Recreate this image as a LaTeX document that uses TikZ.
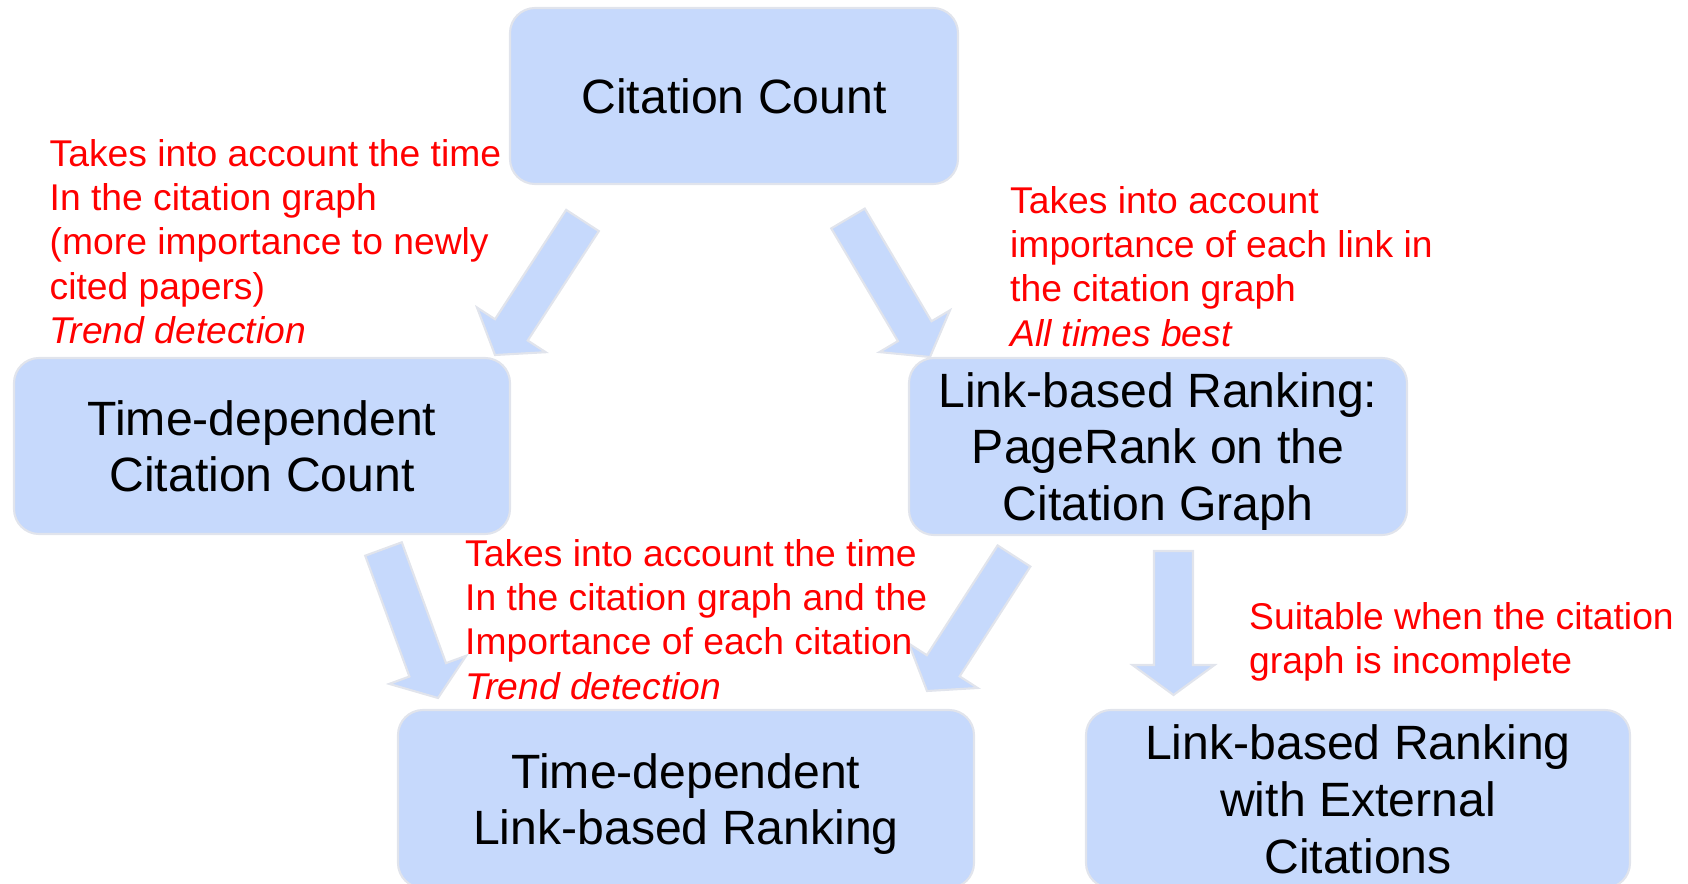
\documentclass[tikz,border=0pt]{standalone}
\usepackage{fontspec}
\setmainfont{Liberation Sans}
\usetikzlibrary{calc}
\definecolor{boxblue}{RGB}{198,217,252}
\definecolor{boxline}{RGB}{225,228,236}
\newcommand{\bigarrow}[2]{%
  \coordinate (ah) at ($(#2)!0.30cm!(#1)$);
  \draw[blockarrow] ($(#1)!0.195cm!90:(#2)$) -- ($(ah)!0.195cm!90:(#2)$)
    -- ($(ah)!0.41cm!90:(#2)$) -- (#2) -- ($(ah)!0.41cm!-90:(#2)$)
    -- ($(ah)!0.195cm!-90:(#2)$) -- ($(#1)!0.195cm!-90:(#2)$) -- cycle;}

\begin{document}
\begin{tikzpicture}[
    box/.style={draw=boxline,fill=boxblue,line width=0.6pt,rounded corners=0.25cm,
                align=center,font=\fontsize{13.7}{16.1}\selectfont,inner sep=0pt,text depth=0pt},
    note/.style={text=red,align=left,anchor=north west,inner sep=0pt,
                font=\fontsize{10.6}{12.55}\selectfont},
    blockarrow/.style={draw=boxline,fill=boxblue,line width=0.6pt}]
                        \useasboundingbox (0,0) rectangle (16.88,-8.84);
                        \clip (0,0) rectangle (16.88,-8.84);
                        \node[box,minimum width=4.48cm,minimum height=1.76cm] (cc) at (7.34,-0.96) {Citation Count};
                        \node[box,minimum width=4.96cm,minimum height=1.76cm] (tdcc) at (2.62,-4.46) {Time-dependent\\Citation Count};
                        \node[box,minimum width=4.98cm,minimum height=1.77cm] (lbr) at (11.58,-4.465) {Link-based Ranking:\\PageRank on the\\Citation Graph};
                        \node[box,minimum width=5.76cm,minimum height=1.78cm] (tdlbr) at (6.86,-7.99) {Time-dependent\\Link-based Ranking};
                        \node[box,minimum width=5.44cm,minimum height=1.78cm] (lbrext) at (13.58,-7.99) {Link-based Ranking\\with External\\Citations};
                        \coordinate (t1) at (5.825,-2.205); \coordinate (h1) at (4.95,-3.55);
                        \coordinate (t2) at (8.48,-2.185); \coordinate (h2) at (9.30,-3.57);
                        \coordinate (t3) at (3.835,-5.49); \coordinate (h3) at (4.38,-6.98);
                        \coordinate (t4) at (10.14,-5.56); \coordinate (h4) at (9.27,-6.91);
                        \coordinate (t5) at (11.735,-5.51); \coordinate (h5) at (11.735,-6.95);
                        \bigarrow{t1}{h1}
                        \bigarrow{t2}{h2}
                        \bigarrow{t3}{h3}
                        \bigarrow{t4}{h4}
                        \bigarrow{t5}{h5}
                        \node[note] (n1) at (0.49,-1.39) {Takes into account the time\\In the citation graph\\(more importance to newly\\cited papers)\\\textit{Trend detection}};
                        \node[note] (n2) at (10.095,-1.86) {Takes into account\\importance of each link in\\the citation graph\\\textit{All times best}};
                        \node[note] (n3) at (4.645,-5.39) {Takes into account the time\\In the citation graph and the\\Importance of each citation\\\textit{Trend detection}};
                        \node[note] (n4) at (12.485,-6.02) {Suitable when the citation\\graph is incomplete};
                    \end{tikzpicture}
\end{document}
